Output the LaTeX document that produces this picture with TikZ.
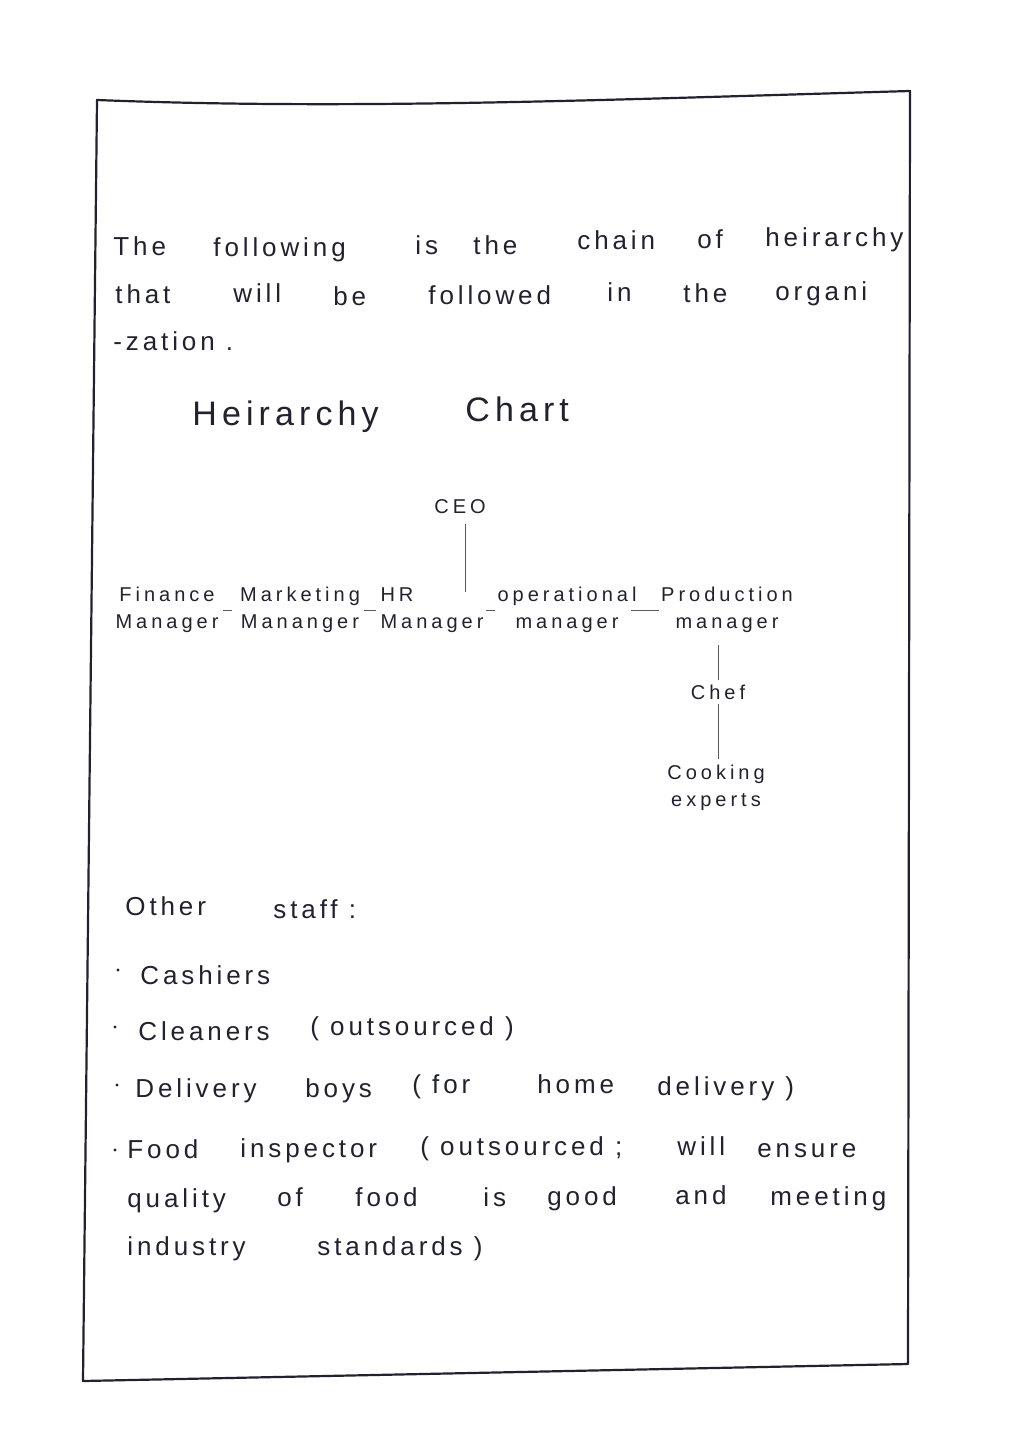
\documentclass[tikz,border=0pt]{standalone}
\usepackage{fontspec}
\setmainfont{Liberation Sans}
\newfontfamily\handfont[LetterSpace=15]{Liberation Sans}
\newfontfamily\chartfont[LetterSpace=20]{Liberation Sans}
\usetikzlibrary{positioning}
\definecolor{ink}{HTML}{22222E}
\tikzset{
  word/.style={anchor=base west, inner sep=0pt, text=ink, font=\handfont\fontsize{13}{15}\selectfont},
  title/.style={word, font=\handfont\fontsize{17}{20}\selectfont},
  post/.style={inner sep=1pt, text=ink, align=center, font=\chartfont\fontsize{10}{13.5}\selectfont},
  link/.style={draw=ink!75, line width=0.5pt},
}

\begin{document}
\begin{tikzpicture}[x=0.5pt,y=-0.5pt]
  \fill[white] (0,0) rectangle (1024,1450);
  \useasboundingbox (0,0) rectangle (1024,1450);

  % page frame
  \draw[ink, line width=1.1pt, line join=round]
    (97,100) .. controls (350,110) and (600,100) .. (910,91)
    -- (908,1364) -- (83,1381) -- cycle;

  % opening text
  \foreach \w/\x/\y [count=\i] in {The/113/255, following/213/256, is/415/254,
      the/473/254, chain/577/249, of/697/248, heirarchy/765/246}
    \node[word] (top\i) at (\x,\y) {\w};
  \foreach \w/\x/\y [count=\i] in {that/115/303, will/233/302, be/333/305,
      followed/428/304, in/607/301, the/683/302, organi/775/300}
    \node[word] (mid\i) at (\x,\y) {\w};
  \node[word] (tail) at (113,350) {-zation .};

  \node[title] (htitle) at (192,425) {Heirarchy};
  \node[title] (ctitle) at (465,421) {Chart};

  % chart
  \node[post] (ceo) at (460,507) {CEO};
  \node[post] (fin) at (167,610) {Finance\\Manager};
  \node[post] (mkt) at (300,610) {Marketing\\Mananger};
  \node[post, align=left] (hr) at (432,610) {HR\\Manager};
  \node[post] (ops) at (567,610) {operational\\manager};
  \node[post] (prod) at (727,610) {Production\\manager};
  \node[post] (chef) at (718,692) {Chef};
  \node[post] (cook) at (716,788) {Cooking\\experts};
  \coordinate (ceofoot) at (465,592);

  \draw[link, shorten <=4pt] (ceo.south -| ceofoot) -- (ceofoot);
  \draw[link, shorten <=1pt, shorten >=3pt] (fin.east) -- (mkt.west);
  \draw[link, shorten <=1pt, shorten >=1pt] (mkt.east) -- (hr.west);
  \draw[link] (hr.east) -- (ops.west);
  \draw[link, shorten <=-4pt] (ops.east) -- (prod.west);
  \draw[link, shorten <=5pt, shorten >=1pt] (chef.north |- prod.south) -- (chef.north);
  \draw[link, shorten <=1pt, shorten >=2pt] (chef.south) -- (chef.south |- cook.north);

  % other staff
  \node[word] (oth1) at (125,915) {Other};
  \node[word] (oth2) at (273,918) {staff :};

  \foreach \x/\y in {118/970, 115/1027, 117/1085, 115/1150}
    \fill[ink] (\x,\y) circle (0.8pt);

  \node[word] (cash) at (140,984) {Cashiers};
  \node[word] (clean1) at (138,1040) {Cleaners};
  \node[word] (clean2) at (310,1035) {( outsourced )};
  \foreach \w/\x/\y [count=\i] in {Delivery/135/1097, boys/305/1097, {( for}/412/1093,
      home/537/1093, {delivery )}/657/1095}
    \node[word] (del\i) at (\x,\y) {\w};
  \foreach \w/\x/\y [count=\i] in {Food/127/1158, inspector/240/1157,
      {( outsourced ;}/420/1155, will/677/1155, ensure/757/1157}
    \node[word] (insp\i) at (\x,\y) {\w};
  \foreach \w/\x/\y [count=\i] in {quality/127/1207, of/277/1206, food/355/1206,
      is/483/1206, good/547/1205, and/675/1204, meeting/770/1205}
    \node[word] (qual\i) at (\x,\y) {\w};
  \node[word] (ind1) at (127,1255) {industry};
  \node[word] (ind2) at (317,1255) {standards )};
\end{tikzpicture}
\end{document}
